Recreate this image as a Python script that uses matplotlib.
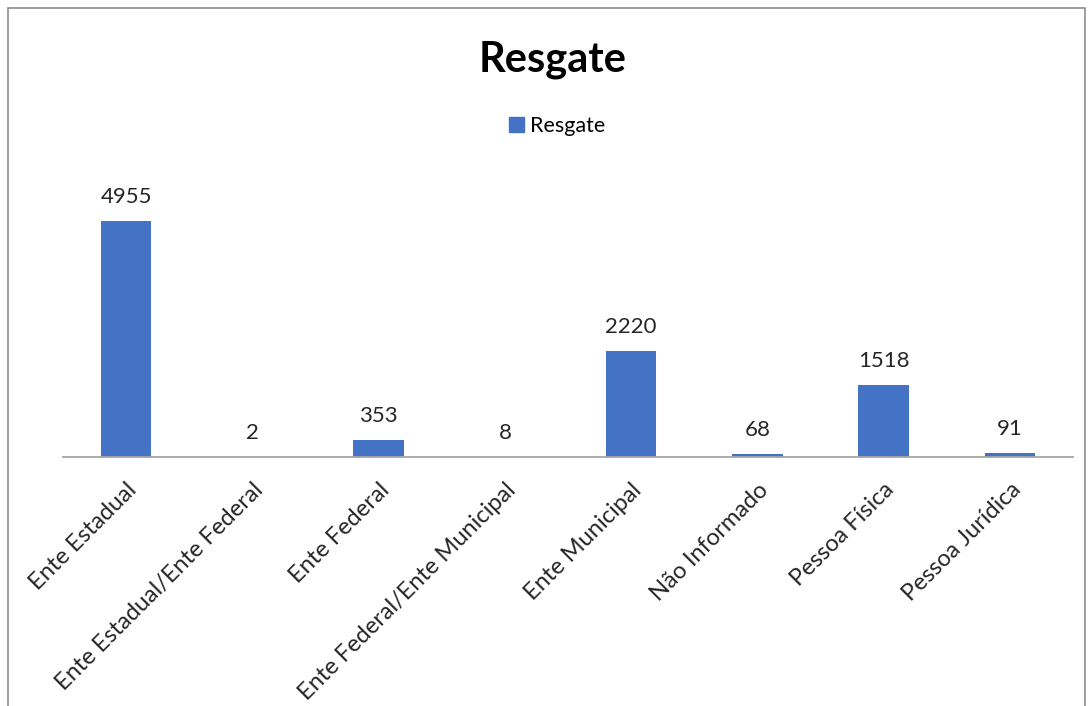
import matplotlib.pyplot as plt
from matplotlib.patches import Rectangle, Patch

# dados do grafico
categorias = ["Ente Estadual", "Ente Estadual/Ente Federal", "Ente Federal",
              "Ente Federal/Ente Municipal", "Ente Municipal", "Não Informado",
              "Pessoa Física", "Pessoa Jurídica"]
valores = [4955, 2, 353, 8, 2220, 68, 1518, 91]
serie = "Resgate"

plt.rcParams['font.family'] = ['Lato', 'DejaVu Sans']
azul = "#4472C4"

W, H = 1091, 706
fig = plt.figure(figsize=(W / 100, H / 100), dpi=100)

# moldura do grafico (a borda de baixo fica fora da imagem)
fig.patches.append(Rectangle((8 / W, -0.05), (1085 - 8) / W, 1.05 - 8 / H,
                             transform=fig.transFigure, fill=False,
                             edgecolor="#8c8c8c", linewidth=1.2))

ax = fig.add_axes([63 / W, (H - 457) / H, (1073 - 63) / W, (457 - 171) / H])
x = range(len(categorias))
barras = ax.bar(x, valores, width=0.4, color=azul)
ax.set_xlim(-0.5, len(categorias) - 0.5)
ax.set_ylim(0, 6000)

for xi, v in zip(x, valores):
    ax.annotate(str(v), (xi, v), xytext=(0, 10), textcoords="offset points",
                ha="center", va="bottom", fontsize=16, color="#262626")

for lado in ["top", "right", "left"]:
    ax.spines[lado].set_visible(False)
ax.spines["bottom"].set_color("#a6a6a6")
ax.spines["bottom"].set_linewidth(1.3)
ax.set_yticks([])
ax.set_xticks(list(x))
ax.set_xticklabels(categorias, rotation=45, ha="right", rotation_mode="anchor",
                   fontsize=17, color="#262626")
ax.tick_params(axis="x", length=0, pad=16)

fig.text(553 / W, 1 - 60 / H, "Resgate", ha="center", va="center",
         fontsize=30, fontweight="bold", color="black")
fig.legend(handles=[Patch(color=azul, label=serie)], loc="center",
           bbox_to_anchor=(557 / W, 1 - 126 / H), frameon=False, fontsize=15.5,
           handlelength=0.7, handleheight=0.7, handletextpad=0.3)

fig.savefig("out.png", dpi=100, facecolor="white")
